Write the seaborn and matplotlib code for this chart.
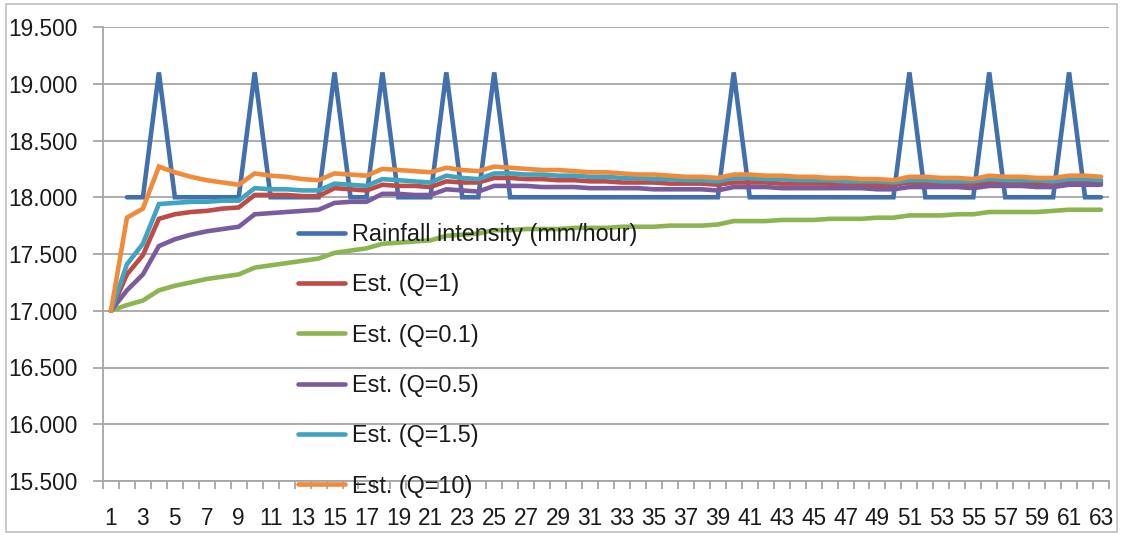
import numpy as np
import pandas as pd
import matplotlib
matplotlib.use("Agg")
import matplotlib.pyplot as plt
from matplotlib.patches import Rectangle
import seaborn as sns

# ---- data -------------------------------------------------------------
steps = list(range(1, 64))

rainfall = [np.nan, 18.0, 18.0, 19.1, 18.0, 18.0, 18.0, 18.0, 18.0, 19.1,
            18.0, 18.0, 18.0, 18.0, 19.1, 18.0, 18.0, 19.1, 18.0, 18.0,
            18.0, 19.1, 18.0, 18.0, 19.1, 18.0, 18.0, 18.0, 18.0, 18.0,
            18.0, 18.0, 18.0, 18.0, 18.0, 18.0, 18.0, 18.0, 18.0, 19.1,
            18.0, 18.0, 18.0, 18.0, 18.0, 18.0, 18.0, 18.0, 18.0, 18.0,
            19.1, 18.0, 18.0, 18.0, 18.0, 19.1, 18.0, 18.0, 18.0, 18.0,
            19.1, 18.0, 18.0]

est_q1 = [17.00, 17.32, 17.49, 17.81, 17.85, 17.87, 17.88, 17.90, 17.91, 18.02,
          18.02, 18.02, 18.01, 18.01, 18.08, 18.07, 18.06, 18.11, 18.10, 18.10,
          18.09, 18.14, 18.13, 18.13, 18.17, 18.17, 18.16, 18.16, 18.15, 18.15,
          18.14, 18.14, 18.13, 18.13, 18.13, 18.12, 18.12, 18.12, 18.11, 18.13,
          18.13, 18.13, 18.12, 18.12, 18.12, 18.12, 18.11, 18.11, 18.11, 18.11,
          18.13, 18.12, 18.12, 18.12, 18.12, 18.13, 18.13, 18.13, 18.12, 18.12,
          18.14, 18.13, 18.13]

est_q01 = [17.00, 17.05, 17.09, 17.18, 17.22, 17.25, 17.28, 17.30, 17.32, 17.38,
           17.40, 17.42, 17.44, 17.46, 17.51, 17.53, 17.55, 17.59, 17.60, 17.61,
           17.62, 17.66, 17.67, 17.68, 17.71, 17.71, 17.72, 17.72, 17.72, 17.73,
           17.73, 17.73, 17.74, 17.74, 17.74, 17.75, 17.75, 17.75, 17.76, 17.79,
           17.79, 17.79, 17.80, 17.80, 17.80, 17.81, 17.81, 17.81, 17.82, 17.82,
           17.84, 17.84, 17.84, 17.85, 17.85, 17.87, 17.87, 17.87, 17.87, 17.88,
           17.89, 17.89, 17.89]

est_q05 = [17.00, 17.18, 17.32, 17.57, 17.63, 17.67, 17.70, 17.72, 17.74, 17.85,
           17.86, 17.87, 17.88, 17.89, 17.95, 17.96, 17.96, 18.03, 18.03, 18.02,
           18.02, 18.07, 18.06, 18.05, 18.10, 18.10, 18.10, 18.09, 18.09, 18.09,
           18.08, 18.08, 18.08, 18.08, 18.07, 18.07, 18.07, 18.07, 18.06, 18.09,
           18.09, 18.09, 18.08, 18.08, 18.08, 18.08, 18.08, 18.08, 18.07, 18.07,
           18.09, 18.09, 18.09, 18.09, 18.08, 18.10, 18.10, 18.10, 18.09, 18.09,
           18.11, 18.11, 18.11]

est_q15 = [17.00, 17.41, 17.59, 17.94, 17.95, 17.96, 17.96, 17.97, 17.97, 18.08,
           18.07, 18.07, 18.06, 18.06, 18.12, 18.11, 18.10, 18.16, 18.15, 18.14,
           18.13, 18.19, 18.17, 18.16, 18.21, 18.21, 18.20, 18.20, 18.19, 18.19,
           18.18, 18.18, 18.17, 18.17, 18.16, 18.16, 18.15, 18.15, 18.14, 18.17,
           18.17, 18.16, 18.16, 18.15, 18.15, 18.15, 18.14, 18.14, 18.14, 18.13,
           18.15, 18.15, 18.14, 18.14, 18.14, 18.16, 18.15, 18.15, 18.15, 18.14,
           18.16, 18.16, 18.15]

est_q10 = [17.00, 17.82, 17.90, 18.27, 18.22, 18.18, 18.15, 18.13, 18.11, 18.21,
           18.19, 18.18, 18.16, 18.15, 18.21, 18.20, 18.19, 18.25, 18.24, 18.23,
           18.22, 18.26, 18.24, 18.23, 18.27, 18.26, 18.25, 18.24, 18.24, 18.23,
           18.22, 18.22, 18.21, 18.20, 18.20, 18.19, 18.18, 18.18, 18.17, 18.20,
           18.20, 18.19, 18.19, 18.18, 18.18, 18.17, 18.17, 18.16, 18.16, 18.15,
           18.18, 18.18, 18.17, 18.17, 18.16, 18.19, 18.18, 18.18, 18.17, 18.17,
           18.19, 18.19, 18.18]

series_names = ["Rainfall intensity (mm/hour)", "Est. (Q=1)", "Est. (Q=0.1)",
                "Est. (Q=0.5)", "Est. (Q=1.5)", "Est. (Q=10)"]
series_values = [rainfall, est_q1, est_q01, est_q05, est_q15, est_q10]
series_colors = ["#4170AD", "#BE4B48", "#8DB450", "#7A5C9E", "#3EA4C0", "#F08B3A"]

y_ticks = [15.5, 16.0, 16.5, 17.0, 17.5, 18.0, 18.5, 19.0, 19.5]
x_tick_labels = list(range(1, 64, 2))

# ---- figure -----------------------------------------------------------
sns.set_style("white")
plt.rcParams["font.family"] = ["Liberation Sans", "DejaVu Sans"]

W, H = 1123, 535
fig = plt.figure(figsize=(W / 100, H / 100), dpi=100)
ax = fig.add_axes([103 / W, 1 - 481 / H, (1109 - 103) / W, (481 - 27) / H])

long = pd.concat(
    [pd.DataFrame({"step": steps, "value": vals, "series": name})
     for name, vals in zip(series_names, series_values)],
    ignore_index=True)

for name, color in zip(series_names, series_colors):
    sub = long[long["series"] == name]
    sns.lineplot(data=sub, x="step", y="value", ax=ax, color=color,
                 linewidth=3.3, label=name, solid_joinstyle="miter",
                 estimator=None, sort=False)

grid_c = "#A6A6A6"
ax.set_xlim(0.5, 63.5)
ax.set_ylim(15.5, 19.5)
ax.set_yticks(y_ticks)
ax.set_yticklabels([f"{v:.3f}" for v in y_ticks])
ax.set_xticks(x_tick_labels)
ax.set_xticklabels([str(v) for v in x_tick_labels])
ax.set_xticks(np.arange(0.5, 64.0, 1.0), minor=True)
ax.yaxis.grid(True, color=grid_c, linewidth=1.3)
ax.xaxis.grid(False)
ax.set_xlabel("")
ax.set_ylabel("")

for side in ("top", "right"):
    ax.spines[side].set_visible(False)
for side in ("left", "bottom"):
    ax.spines[side].set_color(grid_c)
    ax.spines[side].set_linewidth(1.3)

ax.tick_params(axis="y", which="major", length=7, width=1.3, color=grid_c,
               direction="out", left=True, labelsize=16.3, pad=11,
               labelcolor="#1a1a1a")
ax.tick_params(axis="x", which="major", length=0, labelsize=16.3, pad=19,
               labelcolor="#1a1a1a")
ax.tick_params(axis="x", which="minor", length=6, width=1.3, color=grid_c,
               direction="out", bottom=True)

handles, labels = ax.get_legend_handles_labels()
leg = fig.legend(handles, labels, loc="upper left",
                 bbox_to_anchor=(298 / W, 1 - 223 / H),
                 frameon=False, fontsize=16.8, handlelength=2.0,
                 handletextpad=0.3, labelspacing=1.17, borderpad=0,
                 borderaxespad=0)
if ax.get_legend():
    ax.get_legend().remove()
for t in leg.get_texts():
    t.set_color("#1a1a1a")

# chart-area border
fig.patches.append(Rectangle((6 / W, 1 - 532 / H), (1117 - 6) / W, (532 - 4) / H,
                             transform=fig.transFigure, fill=False,
                             edgecolor="#BFBFBF", linewidth=1.2))

fig.savefig("out.png", dpi=100)
